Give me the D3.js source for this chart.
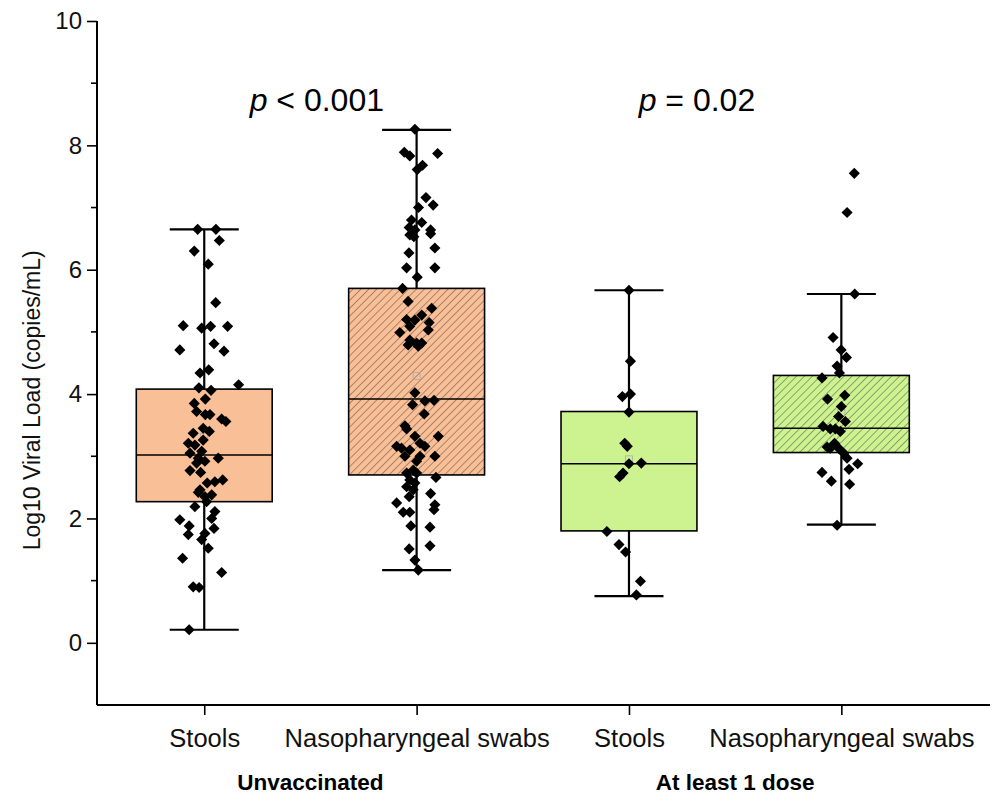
<!DOCTYPE html>
<html>
<head>
<meta charset="utf-8">
<script src="https://cdn.jsdelivr.net/npm/d3@7"></script>
<style>
body { margin: 0; background: #fff; }
svg text { font-family: "Liberation Sans", Arial, sans-serif; }
</style>
</head>
<body>
<svg id="chart" width="992" height="795"></svg>
<script>
// categories
var groups = ["Unvaccinated", "At least 1 dose"];
var samples = ["Stools", "Nasopharyngeal swabs", "Stools", "Nasopharyngeal swabs"];
var yTicks = [0, 2, 4, 6, 8, 10];
var yMinor = [1, 3, 5, 7, 9];
var pLabels = ["< 0.001", "= 0.02"];

// box stats: [whiskerLow, q1, median, q3, whiskerHigh]
var boxStats = [
	[0.21, 2.27, 3.02, 4.08, 6.65],
	[1.17, 2.70, 3.92, 5.70, 8.25],
	[0.75, 1.80, 2.88, 3.72, 5.67],
	[1.90, 3.06, 3.45, 4.30, 5.61]
];
var means = [3.31, 4.29, 2.95, 3.70];

// individual points (values) and their horizontal jitter (category units)
var vals0 = [6.65,6.65,6.47,6.30,6.09,5.47,5.10,5.06,5.09,5.09,4.71,4.81,4.69,4.34,4.39,4.15,4.10,4.06,3.92,3.85,3.72,3.67,3.67,3.60,3.56,3.45,3.40,3.37,3.21,3.18,3.26,3.08,3.05,2.97,2.97,2.92,2.89,2.77,2.74,2.62,2.59,2.57,2.46,2.42,2.38,2.35,2.27,2.19,2.11,2.00,1.98,1.88,1.84,1.74,1.76,1.66,1.52,1.36,1.13,0.90,0.89,0.21];
var jit0 = [-0.031,0.055,0.071,-0.047,0.019,0.054,-0.099,-0.012,0.030,0.110,-0.115,0.046,0.093,-0.020,0.021,0.162,-0.025,0.032,0.005,-0.047,-0.036,0.005,0.027,0.082,0.102,-0.005,0.024,-0.052,-0.075,-0.044,-0.005,-0.012,-0.067,0.066,-0.028,0.003,-0.036,-0.067,-0.017,0.087,0.050,0.014,-0.020,-0.028,0.035,0.003,0.011,-0.044,0.050,0.035,-0.115,-0.071,0.046,-0.075,0.003,-0.012,0.019,-0.102,0.082,-0.052,-0.024,-0.071];

var vals1 = [8.26,7.89,7.83,7.87,7.68,7.61,7.16,7.04,7.00,6.80,6.76,6.68,6.64,6.64,6.56,6.53,6.58,6.35,6.27,6.03,6.03,5.88,5.70,5.49,5.38,5.27,5.20,5.19,5.15,5.09,4.99,5.03,4.87,4.82,4.82,4.79,4.77,4.02,3.83,3.89,3.90,3.68,3.49,3.44,3.32,3.32,3.21,3.16,3.13,3.16,3.10,3.00,3.00,3.00,2.92,2.78,2.73,2.73,2.66,2.62,2.57,2.51,2.46,2.40,2.35,2.25,2.22,2.14,2.10,2.10,1.88,1.86,1.51,1.56,1.33,1.17];
var jit1 = [-0.008,-0.058,-0.032,0.099,0.028,0.003,0.044,0.078,0.009,-0.024,0.024,-0.035,-0.008,0.066,-0.032,-0.013,0.066,0.086,-0.036,-0.047,0.086,0.003,-0.066,-0.040,0.071,0.024,-0.047,-0.008,0.059,-0.032,-0.079,0.055,-0.032,0,0.024,-0.040,0.008,-0.008,-0.019,0.039,0.082,0.036,-0.055,-0.047,-0.008,0.102,0.016,-0.094,-0.071,0.039,-0.032,-0.055,0.016,0.086,0,-0.016,-0.047,0,0.091,-0.032,-0.008,-0.047,-0.016,0.066,-0.035,-0.094,0.086,0.082,-0.063,-0.032,-0.027,0.063,-0.035,0.063,-0.008,0.008];

var vals2 = [5.67,4.53,3.96,4.00,3.71,3.21,3.16,2.88,2.89,2.73,2.67,1.79,1.58,1.46,0.99,0.77];
var jit2 = [0,0.007,-0.031,0.007,0,-0.020,-0.008,0,0.058,-0.028,-0.044,-0.104,-0.047,-0.016,0.054,0.035];

var vals3 = [7.55,6.92,5.61,4.91,4.71,4.59,4.45,4.34,4.26,3.92,3.98,3.80,3.64,3.56,3.48,3.44,3.44,3.40,3.21,3.15,3.13,3.13,3.05,2.97,2.88,2.79,2.74,2.60,2.55,1.89];
var jit3 = [0.061,0.027,0.063,-0.039,-0.001,0.024,-0.020,-0.009,-0.091,-0.065,0.016,0,-0.013,0.019,-0.086,-0.052,-0.028,-0.005,-0.032,-0.067,-0.052,-0.013,0.011,0.027,0.077,0.036,-0.091,-0.047,0.039,-0.020];

var allVals = [vals0, vals1, vals2, vals3];
var allJit = [jit0, jit1, jit2, jit3];

var fills = ["#F9BF96", "#F9BF96", "#CDF391", "#CDF391"];
var hatched = [false, true, false, true];

var svg = d3.select("#chart");

var x = d3.scaleLinear().domain([-0.505, 3.70]).range([97, 990]);
var y = d3.scaleLinear().domain([-1, 10]).range([705, 21]);
var boxW = 0.64, capW = 0.325;

// hatch patterns
var defs = svg.append("defs");
function hatch(id, bg, line){
	var p = defs.append("pattern")
		.attr("id", id)
		.attr("patternUnits", "userSpaceOnUse")
		.attr("width", 5.6).attr("height", 5.6)
		.attr("patternTransform", "rotate(-45)");
	p.append("rect").attr("width", 5.6).attr("height", 5.6).attr("fill", bg);
	p.append("line").attr("x1", 0).attr("y1", 0).attr("x2", 5.6).attr("y2", 0)
		.attr("stroke", line).attr("stroke-width", 1.4);
}
hatch("hatchO", fills[1], "#8a6a58");
hatch("hatchG", fills[3], "#6f7f55");

// axes
var yAxis = d3.axisLeft(y).tickValues(yTicks).tickSize(10).tickPadding(5).tickFormat(d3.format("d"));
var gy = svg.append("g").attr("transform", "translate(97,0)").call(yAxis);
gy.select(".domain").attr("stroke-width", 2).attr("d", "M0," + y(10) + "V" + y(-1));
gy.selectAll(".tick line").attr("stroke-width", 1.6);
gy.selectAll("text").attr("font-size", 24).attr("fill", "#111");
// minor ticks
gy.selectAll(".minor").data(yMinor)
	.enter().append("line")
	.attr("x1", -6).attr("x2", 0)
	.attr("y1", function(d){ return y(d); }).attr("y2", function(d){ return y(d); })
	.attr("stroke", "#000").attr("stroke-width", 1.6);

var xAxis = d3.axisBottom(x).tickValues([0, 1, 2, 3]).tickSize(10).tickPadding(14)
	.tickFormat(function(d){ return samples[d]; });
var gx = svg.append("g").attr("transform", "translate(0,705)").call(xAxis);
gx.select(".domain").attr("stroke-width", 2).attr("d", "M97,0H990");
gx.selectAll(".tick line").attr("stroke-width", 1.6);
gx.selectAll("text").attr("font-size", 25.5).attr("fill", "#111");

svg.selectAll(".grp").data(groups).enter().append("text")
	.attr("x", function(d, i){ return x(i * 2 + 0.5); })
	.attr("y", 790)
	.attr("text-anchor", "middle")
	.attr("font-size", 22.5).attr("font-weight", "bold").attr("fill", "#000")
	.text(function(d){ return d; });

svg.append("text")
	.attr("transform", "translate(40," + y(3.9) + ") rotate(-90)")
	.attr("text-anchor", "middle")
	.attr("font-size", 23).attr("fill", "#111")
	.text("Log10 Viral Load (copies/mL)");

// p values
var pt = svg.selectAll(".pval").data(pLabels).enter().append("text")
	.attr("x", function(d, i){ return x(i === 0 ? 0.53 : 2.32); })
	.attr("y", y(8.55))
	.attr("text-anchor", "middle")
	.attr("font-size", 32).attr("fill", "#000");
pt.append("tspan").attr("font-style", "italic").text("p");
pt.append("tspan").text(function(d){ return " " + d; });

// boxes
var boxes = svg.selectAll(".box").data(boxStats).enter().append("g");
boxes.append("line")
	.attr("x1", function(d, i){ return x(i); }).attr("x2", function(d, i){ return x(i); })
	.attr("y1", function(d){ return y(d[0]); }).attr("y2", function(d){ return y(d[4]); })
	.attr("stroke", "#000").attr("stroke-width", 2.2);
boxes.append("rect")
	.attr("x", function(d, i){ return x(i - boxW / 2); })
	.attr("width", x(boxW) - x(0))
	.attr("y", function(d){ return y(d[3]); })
	.attr("height", function(d){ return y(d[1]) - y(d[3]); })
	.attr("fill", function(d, i){ return hatched[i] ? (i < 2 ? "url(#hatchO)" : "url(#hatchG)") : fills[i]; })
	.attr("stroke", "#000").attr("stroke-width", 1.6);
boxes.append("line")
	.attr("x1", function(d, i){ return x(i - boxW / 2); }).attr("x2", function(d, i){ return x(i + boxW / 2); })
	.attr("y1", function(d){ return y(d[2]); }).attr("y2", function(d){ return y(d[2]); })
	.attr("stroke", "#000").attr("stroke-width", 1.6);
[0, 4].forEach(function(k){
	boxes.append("line")
		.attr("x1", function(d, i){ return x(i - capW / 2); }).attr("x2", function(d, i){ return x(i + capW / 2); })
		.attr("y1", function(d){ return y(d[k]); }).attr("y2", function(d){ return y(d[k]); })
		.attr("stroke", "#000").attr("stroke-width", 2.2);
});
// mean markers
boxes.append("rect")
	.attr("x", function(d, i){ return x(i) - 3.5; })
	.attr("y", function(d, i){ return y(means[i]) - 3.5; })
	.attr("width", 7).attr("height", 7)
	.attr("fill", "none").attr("stroke", "#aaa").attr("stroke-width", 0.8);

// points
var pts = [];
allVals.forEach(function(vs, i){
	vs.forEach(function(v, j){ pts.push({g: i, v: v, j: allJit[i][j]}); });
});
var diamond = d3.symbol().type(d3.symbolSquare).size(62);
svg.append("g").selectAll("path").data(pts).enter().append("path")
	.attr("d", diamond)
	.attr("transform", function(d){ return "translate(" + x(d.g + d.j) + "," + y(d.v) + ") rotate(45)"; })
	.attr("fill", "#000");
</script>
</body>
</html>
